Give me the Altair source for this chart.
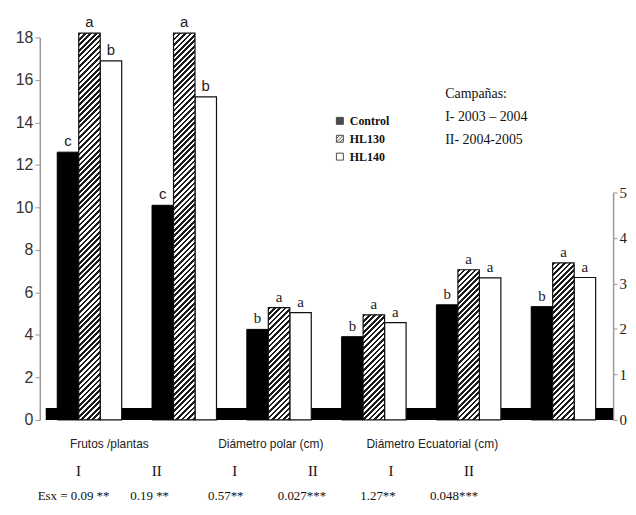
import altair as alt
import pandas as pd
import math

# ---------------- data ----------------
groups = ["Frutos /plantas", "Diámetro polar (cm)", "Diámetro Ecuatorial (cm)"]
keys = ["F-I", "F-II", "P-I", "P-II", "E-I", "E-II"]
campaign_labels = ["I", "II", "I", "II", "I", "II"]
axis_side = ["left", "left", "right", "right", "right", "right"]
series_names = ["Control", "HL130", "HL140"]
control = [12.6, 10.1, 1.99, 1.83, 2.53, 2.49]
hl130 = [18.2, 18.2, 2.47, 2.31, 3.30, 3.45]
hl140 = [16.9, 15.2, 2.36, 2.14, 3.12, 3.13]
letters_control = ["c", "c", "b", "b", "b", "b"]
letters_hl130 = ["a", "a", "a", "a", "a", "a"]
letters_hl140 = ["b", "b", "a", "a", "a", "a"]
esx_labels = ["Esx = 0.09 **", "0.19 **", "0.57**", "0.027***", "1.27**", "0.048***"]
campaign_lines = ["Campañas:", "I- 2003 – 2004", "II-  2004-2005"]
left_ticks = [0, 2, 4, 6, 8, 10, 12, 14, 16, 18]
right_ticks = [0, 1, 2, 3, 4, 5]

# ---------------- layout / style ----------------
W, H = 577, 385
RH = 229            # pixel height of the right axis (0..5)
PI, PO = 0.32, 0.184
LEFT_MAX, RIGHT_MAX = 18, 5

rows = []
series_vals = {"Control": control, "HL130": hl130, "HL140": hl140}
series_letters = {"Control": letters_control, "HL130": letters_hl130, "HL140": letters_hl140}
for i, k in enumerate(keys):
    for s in series_names:
        rows.append({"key": k, "series": s, "value": series_vals[s][i],
                     "letter": series_letters[s][i], "side": axis_side[i]})
df = pd.DataFrame(rows)

step = W / (len(keys) - PI + 2 * PO)
bar_w = step * (1 - PI) / len(series_names)


def hatch(w, h, period=5.5, frac=0.5, dark="#1c1c1c", light="#ffffff"):
    k = (w + h) / (w * w + h * h)
    n = (w + h) / period
    stops = []
    i = 0
    while i < n:
        t0 = round(i / n, 5)
        t1 = round(min((i + frac) / n, 1), 5)
        t2 = round(min((i + 1) / n, 1), 5)
        stops += [{"offset": t0, "color": dark}, {"offset": t1, "color": dark},
                  {"offset": t1, "color": light}, {"offset": t2, "color": light}]
        i += 1
    return {"gradient": "linear", "x1": 0, "y1": 0,
            "x2": round(k * w, 6), "y2": round(k * h, 6), "stops": stops}


def xenc():
    return alt.X("key:N", scale=alt.Scale(domain=keys, paddingInner=PI, paddingOuter=PO), axis=None)


def xoenc():
    return alt.XOffset("series:N", scale=alt.Scale(domain=series_names, paddingInner=0, paddingOuter=0))


def yscale(side):
    if side == "left":
        return alt.Scale(domain=[0, LEFT_MAX], nice=False)
    return alt.Scale(domain=[0, RIGHT_MAX], range=[H, H - RH], nice=False)


def yenc(side, axis=None):
    return alt.Y("value:Q", scale=yscale(side), axis=axis)


left_axis = alt.Axis(values=left_ticks, orient="left", title=None, grid=False,
                     labelFont="Liberation Sans", labelFontSize=16, labelColor="#333",
                     domainColor="#999", domainWidth=1.5, tickColor="#999", tickSize=5,
                     labelPadding=2)
right_axis = alt.Axis(values=right_ticks, orient="right", title=None, grid=False,
                      labelFont="Liberation Serif", labelFontSize=15, labelColor="#222",
                      domainColor="#999", domainWidth=1.5, tickColor="#999", tickSize=4,
                      labelPadding=2)

base = alt.Chart(df)
layers = []

# floor of the 3-D chart
floor = alt.Chart(pd.DataFrame({"f": [0]})).mark_rect(color="black").encode(
    x=alt.value(6), x2=alt.value(W), y=alt.value(H), y2=alt.value(H - 12))
layers.append(floor)

for side in ["left", "right"]:
    ax = left_axis if side == "left" else right_axis
    layers.append(base.transform_filter(
        f"datum.series == 'Control' && datum.side == '{side}'"
    ).mark_bar(fill="black", stroke="black", strokeWidth=1).encode(
        x=xenc(), xOffset=xoenc(), y=yenc(side, ax)))
    layers.append(base.transform_filter(
        f"datum.series == 'HL140' && datum.side == '{side}'"
    ).mark_bar(fill="white", stroke="#111", strokeWidth=1.2).encode(
        x=xenc(), xOffset=xoenc(), y=yenc(side)))

for i, k in enumerate(keys):
    side = axis_side[i]
    v = hl130[i]
    h = v / LEFT_MAX * H if side == "left" else v / RIGHT_MAX * RH
    layers.append(base.transform_filter(
        f"datum.series == 'HL130' && datum.key == '{k}'"
    ).mark_bar(fill=hatch(bar_w, h), stroke="#111", strokeWidth=1.2).encode(
        x=xenc(), xOffset=xoenc(), y=yenc(side)))

# significance letters
for side in ["left", "right"]:
    font = "Liberation Sans" if side == "left" else "Liberation Serif"
    layers.append(base.transform_filter(f"datum.side == '{side}'").mark_text(
        dy=-11, font=font, fontSize=15, color="#222", baseline="middle"
    ).encode(x=xenc(), xOffset=xoenc(), y=yenc(side), text="letter:N"))

# bottom labels
df_groups = pd.DataFrame({"group": groups})
layers.append(alt.Chart(df_groups).mark_text(
    font="Liberation Sans", fontSize=12, color="#222", align="center", baseline="middle"
).encode(x=alt.X("group:N", scale=alt.Scale(domain=groups, range=[70, 395], padding=0), axis=None),
         y=alt.value(H + 24), text="group:N"))

df_camp = pd.DataFrame({"key": keys, "lab": campaign_labels, "esx": esx_labels})
layers.append(alt.Chart(df_camp).mark_text(
    font="Liberation Serif", fontSize=15, color="#111", align="center", baseline="middle"
).encode(x=alt.X("key:N", scale=alt.Scale(domain=keys, range=[39, 432], padding=0), axis=None),
         y=alt.value(H + 51), text="lab:N"))
layers.append(alt.Chart(df_camp).mark_text(
    font="Liberation Serif", fontSize=13, color="#111", align="center", baseline="middle"
).encode(x=alt.X("key:N", scale=alt.Scale(domain=keys, range=[34, 417], padding=0), axis=None),
         y=alt.value(H + 77), text="esx:N"))

# campaign note
layers.append(alt.Chart(pd.DataFrame({"t": [0]})).mark_text(
    text=campaign_lines, font="Liberation Serif", fontSize=14, color="#111",
    align="left", baseline="top", lineHeight=23
).encode(x=alt.value(408), y=alt.value(50)))

# legend (symbols only)
sq = "M-1,-1H1V1H-1Z"
sq_hatch = "M-1,-1H1V1H-1Z M-1,1L1,-1 M-1,0L0,-1 M0,1L1,0"
legend = alt.Legend(title=None, orient="none", legendX=296, legendY=78,
                    labelFont="Liberation Serif", labelFontSize=12, labelFontWeight="bold",
                    labelColor="#111", symbolSize=49, symbolStrokeColor="black",
                    symbolStrokeWidth=1, rowPadding=6, labelOffset=4, padding=0)
df_leg = pd.DataFrame({"series": series_names})
layers.append(alt.Chart(df_leg).transform_filter("datum.series == 'none'").mark_point(
    filled=True, stroke="black", strokeWidth=1
).encode(
    color=alt.Color("series:N", scale=alt.Scale(domain=series_names, range=["black", "white", "white"]),
                    legend=legend),
    shape=alt.Shape("series:N", scale=alt.Scale(domain=series_names, range=[sq, sq_hatch, sq]),
                    legend=legend)))

chart = alt.layer(*layers).resolve_scale(x="independent", y="independent").properties(
    width=W, height=H,
    autosize=alt.AutoSizeParams(type="none"),
    padding={"left": 32, "top": 28, "right": 15, "bottom": 82},
    background="white",
).configure_view(stroke=None)

chart.save("out.html", embed_options={"renderer": "svg", "actions": False})
